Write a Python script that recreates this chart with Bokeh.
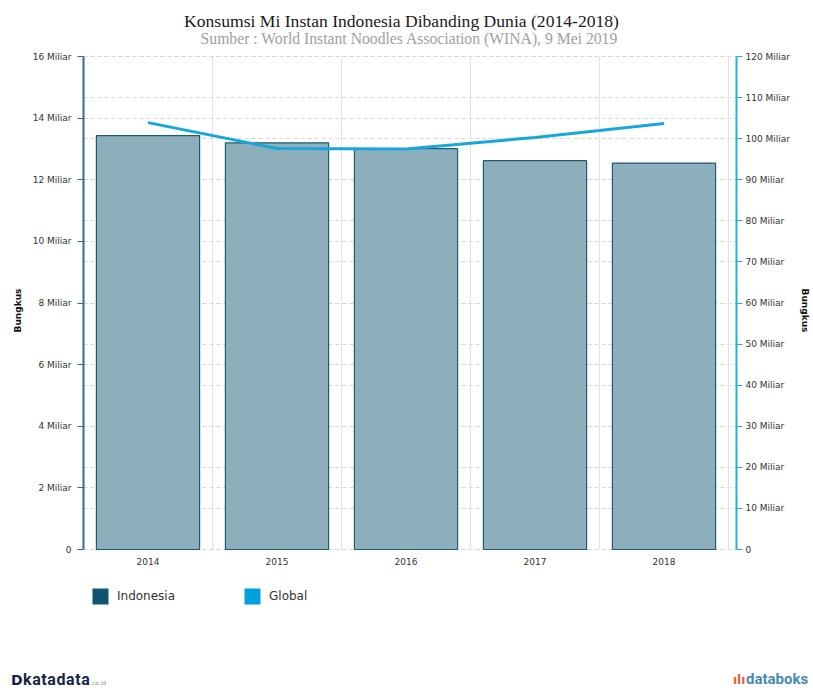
from bokeh.plotting import figure
from bokeh.layouts import column
from bokeh.models import (Range1d, LinearAxis, FixedTicker, Grid, Legend,
                          LegendItem, Label, Div)
from bokeh.embed import file_html
from bokeh.resources import INLINE

# ---- data ----
years = ["2014", "2015", "2016", "2017", "2018"]
indonesia = [13.43, 13.20, 13.01, 12.62, 12.54]      # Miliar bungkus
global_total = [103.9, 97.6, 97.5, 100.3, 103.7]     # Miliar bungkus
left_ticks = [0, 2, 4, 6, 8, 10, 12, 14, 16]
right_ticks = [0, 10, 20, 30, 40, 50, 60, 70, 80, 90, 100, 110, 120]
title_text = "Konsumsi Mi Instan Indonesia Dibanding Dunia (2014-2018)"
subtitle_text = "Sumber : World Instant Noodles Association (WINA), 9 Mei 2019"
series_names = ["Indonesia", "Global"]
axis_title = "Bungkus"

xpos = [i + 0.5 for i in range(len(years))]
bounds = [i for i in range(len(years) + 1)]

FONT = "DejaVu Sans"
LEFT_C = "#2e6e88"
RIGHT_C = "#22b0e2"

# ---- layout geometry (pixels) ----
W, H = 813, 668
FRAME_LEFT, FRAME_RIGHT = 83, 736
FRAME_TOP, FRAME_BOT = 0, 620
PX_MAX, PX_ZERO = 56, 549          # where the top tick and zero sit
lmin, lmax = left_ticks[0], left_ticks[-1]
rmin, rmax = right_ticks[0], right_ticks[-1]
lscale = (lmax - lmin) / (PX_ZERO - PX_MAX)
rscale = (rmax - rmin) / (PX_ZERO - PX_MAX)
band_px = 129.0

p = figure(width=W, height=H, output_backend="svg", toolbar_location=None,
           x_range=Range1d(0, (FRAME_RIGHT - FRAME_LEFT) / band_px),
           y_range=Range1d(lmin - (FRAME_BOT - PX_ZERO) * lscale,
                            lmax + (PX_MAX - FRAME_TOP) * lscale),
           min_border_left=FRAME_LEFT, min_border_right=W - FRAME_RIGHT,
           min_border_top=FRAME_TOP, min_border_bottom=H - FRAME_BOT)
p.title.visible = False
p.outline_line_color = None
p.background_fill_color = "white"
p.border_fill_color = "white"
p.extra_y_ranges = {"right": Range1d(rmin - (FRAME_BOT - PX_ZERO) * rscale,
                                     rmax + (PX_MAX - FRAME_TOP) * rscale)}

# grids
p.xgrid.visible = False
p.segment(x0=bounds, x1=bounds, y0=[lmin] * len(bounds), y1=[lmax] * len(bounds),
          line_color="#e3e3e3", line_width=1)
p.ygrid.ticker = FixedTicker(ticks=left_ticks)
p.ygrid.grid_line_color = "#d6d6d6"
p.ygrid.grid_line_dash = "4 3"
rgrid = Grid(dimension=1, ticker=FixedTicker(ticks=right_ticks), y_range_name="right",
             grid_line_color="#d6d6d6", grid_line_dash="4 3")
p.add_layout(rgrid)

# legend swatch renderers (hidden in the plot, shown only in the legend)
r1 = p.vbar(x=xpos, top=indonesia, width=0.8, fill_color="#0d5570", line_color=None,
            visible=False)
r2 = p.vbar(x=xpos, top=global_total, width=0.8, y_range_name="right",
            fill_color="#00a0dc", line_color=None, visible=False)

# bars and line
p.vbar(x=xpos, top=indonesia, width=0.8, fill_color="#8cafbb",
       line_color="#1e5c74", line_width=1.2)
p.line(xpos, global_total, y_range_name="right", line_color="#18a7dd", line_width=3)

# bottom axis (sits at zero)
xa = p.xaxis[0]
xa.fixed_location = lmin
xa.ticker = FixedTicker(ticks=xpos)
xa.major_label_overrides = {x: y for x, y in zip(xpos, years)}
xa.axis_line_color = None
xa.major_tick_line_color = None
xa.major_tick_out = 0
xa.major_tick_in = 0
xa.minor_tick_line_color = None
xa.major_label_standoff = 8
xa.major_label_text_font = FONT
xa.major_label_text_font_size = "9px"
xa.major_label_text_color = "#333333"

# left axis
ya = p.yaxis[0]
ya.bounds = (lmin, lmax)
ya.ticker = FixedTicker(ticks=left_ticks)
ya.major_label_overrides = {t: ("0" if t == 0 else f"{t} Miliar") for t in left_ticks}
ya.axis_line_color = LEFT_C
ya.axis_line_width = 2
ya.major_tick_line_color = LEFT_C
ya.major_tick_out = 6
ya.major_tick_in = 0
ya.minor_tick_line_color = None
ya.major_label_standoff = 6
ya.major_label_text_font = FONT
ya.major_label_text_font_size = "9px"
ya.major_label_text_color = "#333333"
ya.axis_label = axis_title
ya.axis_label_text_font = FONT
ya.axis_label_text_font_size = "9px"
ya.axis_label_text_font_style = "bold"
ya.axis_label_text_color = "#111111"
ya.axis_label_standoff = 7

# right axis
ra = LinearAxis(y_range_name="right", ticker=FixedTicker(ticks=right_ticks))
ra.bounds = (rmin, rmax)
ra.major_label_overrides = {t: ("0" if t == 0 else f"{t} Miliar") for t in right_ticks}
ra.axis_line_color = RIGHT_C
ra.axis_line_width = 2
ra.major_tick_line_color = RIGHT_C
ra.major_tick_out = 6
ra.major_tick_in = 0
ra.minor_tick_line_color = None
ra.major_label_standoff = 3
ra.major_label_text_font = FONT
ra.major_label_text_font_size = "9px"
ra.major_label_text_color = "#333333"
ra.axis_label = axis_title
ra.axis_label_text_font = FONT
ra.axis_label_text_font_size = "9px"
ra.axis_label_text_font_style = "bold"
ra.axis_label_text_color = "#111111"
ra.axis_label_standoff = 7
p.add_layout(ra, "right")

# legend (inside the frame, under the axis)
legend = Legend(items=[LegendItem(label=series_names[0], renderers=[r1]),
                       LegendItem(label=series_names[1], renderers=[r2])],
                location=(90 - FRAME_LEFT, FRAME_BOT - 606), orientation="horizontal",
                glyph_width=20, glyph_height=20, label_standoff=7, label_width=125,
                label_height=20, spacing=0, padding=0, margin=0,
                border_line_color=None, background_fill_alpha=0,
                label_text_font=FONT, label_text_font_size="12px",
                label_text_color="#333333", label_text_baseline="middle")
p.add_layout(legend)

# titles
p.add_layout(Label(x=401 - FRAME_LEFT, y=FRAME_BOT - 20, x_units="screen", y_units="screen",
                   text=title_text, text_align="center", text_baseline="middle",
                   text_font="Liberation Serif", text_font_size="17.6px",
                   text_color="#1a1a1a"))
p.add_layout(Label(x=409 - FRAME_LEFT, y=FRAME_BOT - 38, x_units="screen", y_units="screen",
                   text=subtitle_text, text_align="center", text_baseline="middle",
                   text_font="Liberation Serif", text_font_size="15.7px",
                   text_color="#a0a0a0"))

# logos
logo_html = (
    '<div style="position:relative;width:813px;height:20px;">'
    '<span style="position:absolute;left:11px;top:4px;font:bold 14px \'DejaVu Sans\';'
    'color:#14264a;line-height:16px;">D</span>'
    '<span style="position:absolute;left:23px;top:4px;font:bold 16px Roboto;'
    'letter-spacing:0.6px;color:#14264a;line-height:16px;">katadata</span>'
    '<span style="position:absolute;left:90px;top:11px;font:6px \'DejaVu Sans\';'
    'color:#8a8a8a;line-height:8px;">.co.id</span>'
    '<span style="position:absolute;left:733px;top:4px;font:bold 12px \'DejaVu Sans\';'
    'color:#ee5a3a;line-height:16px;">ılı</span>'
    '<span style="position:absolute;left:746px;top:3px;font:bold 15px Roboto;'
    'color:#4a88b4;line-height:16px;">databoks</span>'
    '</div>'
)
logos = Div(text=logo_html, width=813, height=20, margin=0)

layout = column(p, logos, spacing=0)
open("out.html", "w").write(file_html(layout, INLINE))
